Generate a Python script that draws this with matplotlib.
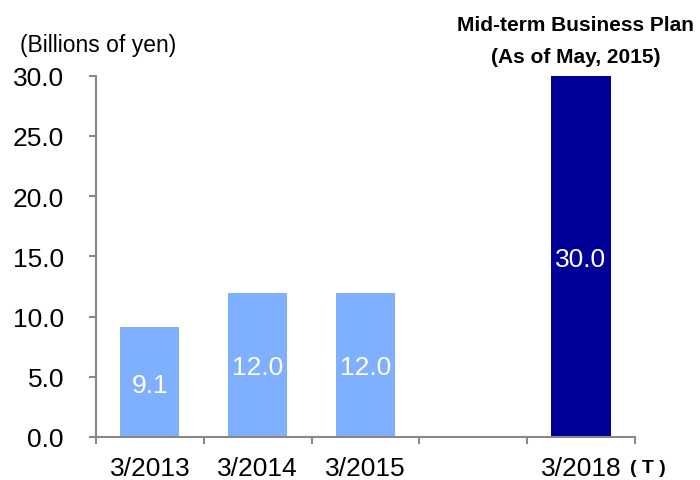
import matplotlib.pyplot as plt
from matplotlib.ticker import FixedLocator, NullFormatter

plt.rcParams['font.family'] = ['Liberation Sans', 'DejaVu Sans']

# Ordinary income, fiscal years ended March (billions of yen)
periodos = ['3/2013', '3/2014', '3/2015', '', '3/2018']
valores = [9.1, 12.0, 12.0, None, 30.0]
colores = ['#7FAFFF', '#7FAFFF', '#7FAFFF', None, '#000099']
etiquetas = ['9.1', '12.0', '12.0', None, '30.0']

fig = plt.figure(figsize=(7.0, 4.81), dpi=100)
ax = fig.add_axes([0.137, 0.0894, 0.77, 0.751])

for i, (v, c, t) in enumerate(zip(valores, colores, etiquetas)):
    if v is None:
        continue
    ax.bar(i, v, width=0.55, color=c, zorder=2)
    ax.text(i, v / 2, t, ha='center', va='center_baseline', color='white', fontsize=19)

ax.set_xlim(-0.5, len(periodos) - 0.5)
ax.set_ylim(0, 30)
ax.set_yticks([0, 5, 10, 15, 20, 25, 30])
ax.set_yticklabels([f'{y:.1f}' for y in [0, 5, 10, 15, 20, 25, 30]])

# labels centred under the bars, tick marks on the category borders
ax.set_xticks(range(len(periodos)))
ax.set_xticklabels(periodos)
ax.xaxis.set_minor_locator(FixedLocator([i - 0.5 for i in range(len(periodos) + 1)]))
ax.xaxis.set_minor_formatter(NullFormatter())
ax.tick_params(axis='x', which='major', length=0, pad=14, labelsize=19)
ax.tick_params(axis='x', which='minor', length=5, width=1.5, color='#888888')
ax.tick_params(axis='y', length=5, width=1.5, color='#888888', pad=18, labelsize=19)

for lado in ['top', 'right']:
    ax.spines[lado].set_visible(False)
for lado in ['left', 'bottom']:
    ax.spines[lado].set_color('#888888')
    ax.spines[lado].set_linewidth(1.5)

fig.text(0.140, 0.906, '(Billions of yen)', ha='center', va='center', fontsize=16.5)
fig.text(0.822, 0.948, 'Mid-term Business Plan', ha='center', va='center',
         fontsize=15, fontweight='bold')
fig.text(0.822, 0.880, '(As of May, 2015)', ha='center', va='center',
         fontsize=15, fontweight='bold')
fig.text(0.925, 0.027, '( T )', ha='center', va='center', fontsize=14, fontweight='bold')

fig.savefig('out.png', dpi=100)
